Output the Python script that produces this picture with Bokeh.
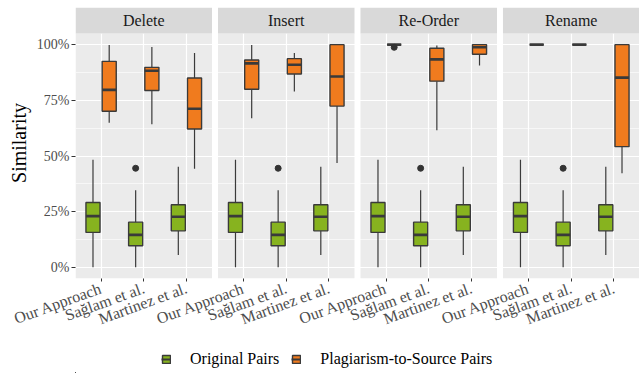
import math
from bokeh.plotting import figure
from bokeh.models import (ColumnDataSource, FactorRange, Range1d, FixedTicker,
                          NumeralTickFormatter, Legend, LegendItem)
from bokeh.core.properties import value
from bokeh.transform import dodge
from bokeh.layouts import column
from bokeh.embed import file_html
from bokeh.resources import INLINE

# ---------------- data ----------------
operations = ["Delete", "Insert", "Re-Order", "Rename"]
methods = ["Our Approach", "Sağlam et al.", "Martinez et al."]
groups = ["Original Pairs", "Plagiarism-to-Source Pairs"]
y_ticks = [0, 0.25, 0.5, 0.75, 1.0]
y_minor = [0.125, 0.375, 0.625, 0.875]

# Original pairs (identical in every facet), per method
orig_lower = [0.000, 0.000, 0.055]
orig_q1 = [0.157, 0.097, 0.164]
orig_median = [0.230, 0.146, 0.227]
orig_q3 = [0.291, 0.203, 0.281]
orig_upper = [0.483, 0.346, 0.452]
orig_outlier_method = ["Sağlam et al."]
orig_outlier_value = [0.445]

# Plagiarism-to-source pairs, per facet, per method
plag_lower = {"Delete": [0.649, 0.642, 0.443], "Insert": [0.669, 0.790, 0.469],
              "Re-Order": [1.000, 0.616, 0.906], "Rename": [1.000, 1.000, 0.423]}
plag_q1 = {"Delete": [0.701, 0.794, 0.621], "Insert": [0.800, 0.868, 0.724],
           "Re-Order": [1.000, 0.836, 0.957], "Rename": [1.000, 1.000, 0.542]}
plag_median = {"Delete": [0.797, 0.883, 0.712], "Insert": [0.916, 0.910, 0.857],
               "Re-Order": [1.000, 0.934, 0.988], "Rename": [1.000, 1.000, 0.852]}
plag_q3 = {"Delete": [0.925, 0.898, 0.850], "Insert": [0.931, 0.937, 1.000],
           "Re-Order": [1.000, 0.984, 1.000], "Rename": [1.000, 1.000, 1.000]}
plag_upper = {"Delete": [0.998, 0.989, 0.962], "Insert": [0.998, 0.962, 1.000],
              "Re-Order": [1.000, 0.996, 1.000], "Rename": [1.000, 1.000, 1.000]}
plag_outlier_method = {"Delete": [], "Insert": [], "Re-Order": ["Our Approach"], "Rename": []}
plag_outlier_value = {"Delete": [], "Insert": [], "Re-Order": [0.988], "Rename": []}

# ---------------- style / layout ----------------
FONT = "Liberation Serif"
FONT_Q = '"Liberation Serif"'
GREEN = "#87B31F"
ORANGE = "#F07B1E"
OUT = "#3A3A3A"
PANEL_BG = "#EBEBEB"
STRIP_BG = "#D9D9D9"
W, H = 639, 373
LEFT, TOP = 75, 7
PANEL_PX = 245          # height of a panel (data range -0.05 .. 1.05)
STRIP_PX = 26           # height of a facet strip
Y_LO, Y_HI = -0.05, 1.05
STRIP_H = STRIP_PX / PANEL_PX * (Y_HI - Y_LO)
FRAME_H = PANEL_PX + STRIP_PX
BOTTOM = 64
MAIN_H = TOP + FRAME_H + BOTTOM
LEG_H = H - MAIN_H
GROUP_PAD = 0.34
N_UNITS = len(operations) * len(methods) + (len(operations) - 1) * GROUP_PAD
PANEL_W = len(methods) + 0.2
BOX_W = 0.33
OFFS = [-0.19, 0.19]
COLORS = [GREEN, ORANGE]

factors = [(op, m) for op in operations for m in methods]

p = figure(width=W, height=MAIN_H,
           x_range=FactorRange(factors=factors, group_padding=GROUP_PAD,
                               range_padding=0.2 / N_UNITS, range_padding_units="percent"),
           y_range=Range1d(Y_LO, Y_HI + STRIP_H), output_backend="svg", toolbar_location=None,
           min_border_left=LEFT, min_border_right=0, min_border_top=TOP,
           min_border_bottom=BOTTOM)
p.background_fill_color = "white"
p.border_fill_color = "white"
p.outline_line_color = None

# panel backgrounds and strips
centre = [(op, methods[1]) for op in operations]
fsrc = ColumnDataSource(dict(x=centre, op=operations,
                             y=[(Y_LO + Y_HI) / 2] * len(operations),
                             ys=[Y_HI + STRIP_H / 2] * len(operations)))
p.rect(x="x", y="y", width=PANEL_W, height=Y_HI - Y_LO, source=fsrc,
       fill_color=PANEL_BG, line_color=None, level="image")
p.rect(x="x", y="ys", width=PANEL_W, height=STRIP_H, source=fsrc,
       fill_color=STRIP_BG, line_color=None)
p.text(x="x", y="ys", text="op", source=fsrc, text_align="center", text_baseline="middle",
       text_font=value(FONT), text_font_size="16px", text_color="#1A1A1A")

# grid
ticker = FixedTicker(ticks=y_ticks, minor_ticks=y_minor)
yax = p.yaxis[0]
xax = p.xaxis[0]
yax.ticker = ticker
p.ygrid[0].ticker = ticker
p.ygrid[0].grid_line_color = "white"
p.ygrid[0].grid_line_width = 1.2
p.ygrid[0].minor_grid_line_color = "white"
p.ygrid[0].minor_grid_line_width = 0.6
p.xgrid[0].grid_line_color = "white"
p.xgrid[0].grid_line_width = 1.2

# y axis
yax.formatter = NumeralTickFormatter(format="0%")
yax.axis_label = "Similarity"
yax.axis_label_text_font = FONT_Q
yax.axis_label_text_font_size = "20px"
yax.axis_label_text_font_style = "normal"
yax.axis_label_text_color = "black"
yax.axis_label_standoff = 4
yax.major_label_text_font = FONT
yax.major_label_text_font_size = "14px"
yax.major_label_text_color = "#4D4D4D"
yax.major_label_standoff = 2
yax.axis_line_color = None
yax.major_tick_line_color = "#333333"
yax.major_tick_out = 4
yax.major_tick_in = 0
yax.minor_tick_line_color = None

# x axis
xax.major_label_orientation = math.radians(20)
xax.major_label_text_font = FONT
xax.major_label_text_font_size = "16px"
xax.major_label_text_color = "#4D4D4D"
xax.major_label_standoff = 6
xax.axis_line_color = None
xax.major_tick_line_color = "#333333"
xax.major_tick_out = 3
xax.major_tick_in = 0
xax.separator_line_color = None
xax.group_text_font_size = "0px"
xax.group_text_alpha = 0


def stats_source(lower, q1, med, q3, upper):
    return ColumnDataSource(dict(x=factors, lower=lower, q1=q1, median=med, q3=q3, upper=upper))


def draw_group(src, off, color, out_x, out_v):
    xc = dodge("x", off, range=p.x_range)
    p.segment(x0=xc, y0="upper", x1=xc, y1="q3", source=src, line_color=OUT, line_width=1.2)
    p.segment(x0=xc, y0="lower", x1=xc, y1="q1", source=src, line_color=OUT, line_width=1.2)
    p.vbar(x=xc, width=BOX_W, bottom="q1", top="q3", source=src,
           fill_color=color, line_color=OUT, line_width=1.4)
    p.segment(x0=dodge("x", off - BOX_W / 2, range=p.x_range), y0="median",
              x1=dodge("x", off + BOX_W / 2, range=p.x_range), y1="median",
              source=src, line_color=OUT, line_width=2.6)
    if out_x:
        osrc = ColumnDataSource(dict(x=out_x, value=out_v))
        p.scatter(x=dodge("x", off, range=p.x_range), y="value", source=osrc,
                  size=6, fill_color="#333333", line_color="#333333")


# original pairs (same in every facet)
o = {k: [] for k in ["lower", "q1", "med", "q3", "up", "ox", "ov"]}
for op in operations:
    o["lower"] += orig_lower
    o["q1"] += orig_q1
    o["med"] += orig_median
    o["q3"] += orig_q3
    o["up"] += orig_upper
    o["ox"] += [(op, m) for m in orig_outlier_method]
    o["ov"] += orig_outlier_value
src_orig = stats_source(o["lower"], o["q1"], o["med"], o["q3"], o["up"])
draw_group(src_orig, OFFS[0], GREEN, o["ox"], o["ov"])

g = {k: [] for k in ["lower", "q1", "med", "q3", "up", "ox", "ov"]}
for op in operations:
    g["lower"] += plag_lower[op]
    g["q1"] += plag_q1[op]
    g["med"] += plag_median[op]
    g["q3"] += plag_q3[op]
    g["up"] += plag_upper[op]
    g["ox"] += [(op, m) for m in plag_outlier_method[op]]
    g["ov"] += plag_outlier_value[op]
src_plag = stats_source(g["lower"], g["q1"], g["med"], g["q3"], g["up"])
draw_group(src_plag, OFFS[1], ORANGE, g["ox"], g["ov"])

# ---------------- legend strip (its glyphs lie far outside its view in x and y) ----------------
lf = figure(width=W, height=LEG_H, x_range=Range1d(100, 101), y_range=Range1d(100, 101),
            x_axis_location=None, y_axis_location=None, output_backend="svg",
            toolbar_location=None, min_border=0)
lf.outline_line_color = None
lf.background_fill_color = "white"
lf.border_fill_color = "white"
lf.grid.visible = False
items = []
for name, color, src in zip(groups, COLORS, [src_orig, src_plag]):
    rb = lf.vbar(x="median", width=0.01, bottom="q1", top="q3", source=src,
                 fill_color=color, line_color=OUT, line_width=1.4)
    rm = lf.segment(x0="q1", y0="median", x1="q3", y1="median", source=src,
                    line_color=OUT, line_width=2)
    items.append(LegendItem(label=name, renderers=[rb, rm]))
leg = Legend(items=items)
leg.location = (86, 4)
leg.orientation = "horizontal"
leg.glyph_width = 10
leg.glyph_height = 10
leg.label_standoff = 19
leg.spacing = 12
leg.padding = 0
leg.margin = 0
leg.border_line_color = None
leg.background_fill_alpha = 0
leg.label_text_font = FONT_Q
leg.label_text_font_size = "16px"
leg.label_text_font_style = "normal"
leg.label_text_color = "black"
leg.label_height = 20
lf.add_layout(leg)

open("out.html", "w").write(file_html(column(p, lf), INLINE))
